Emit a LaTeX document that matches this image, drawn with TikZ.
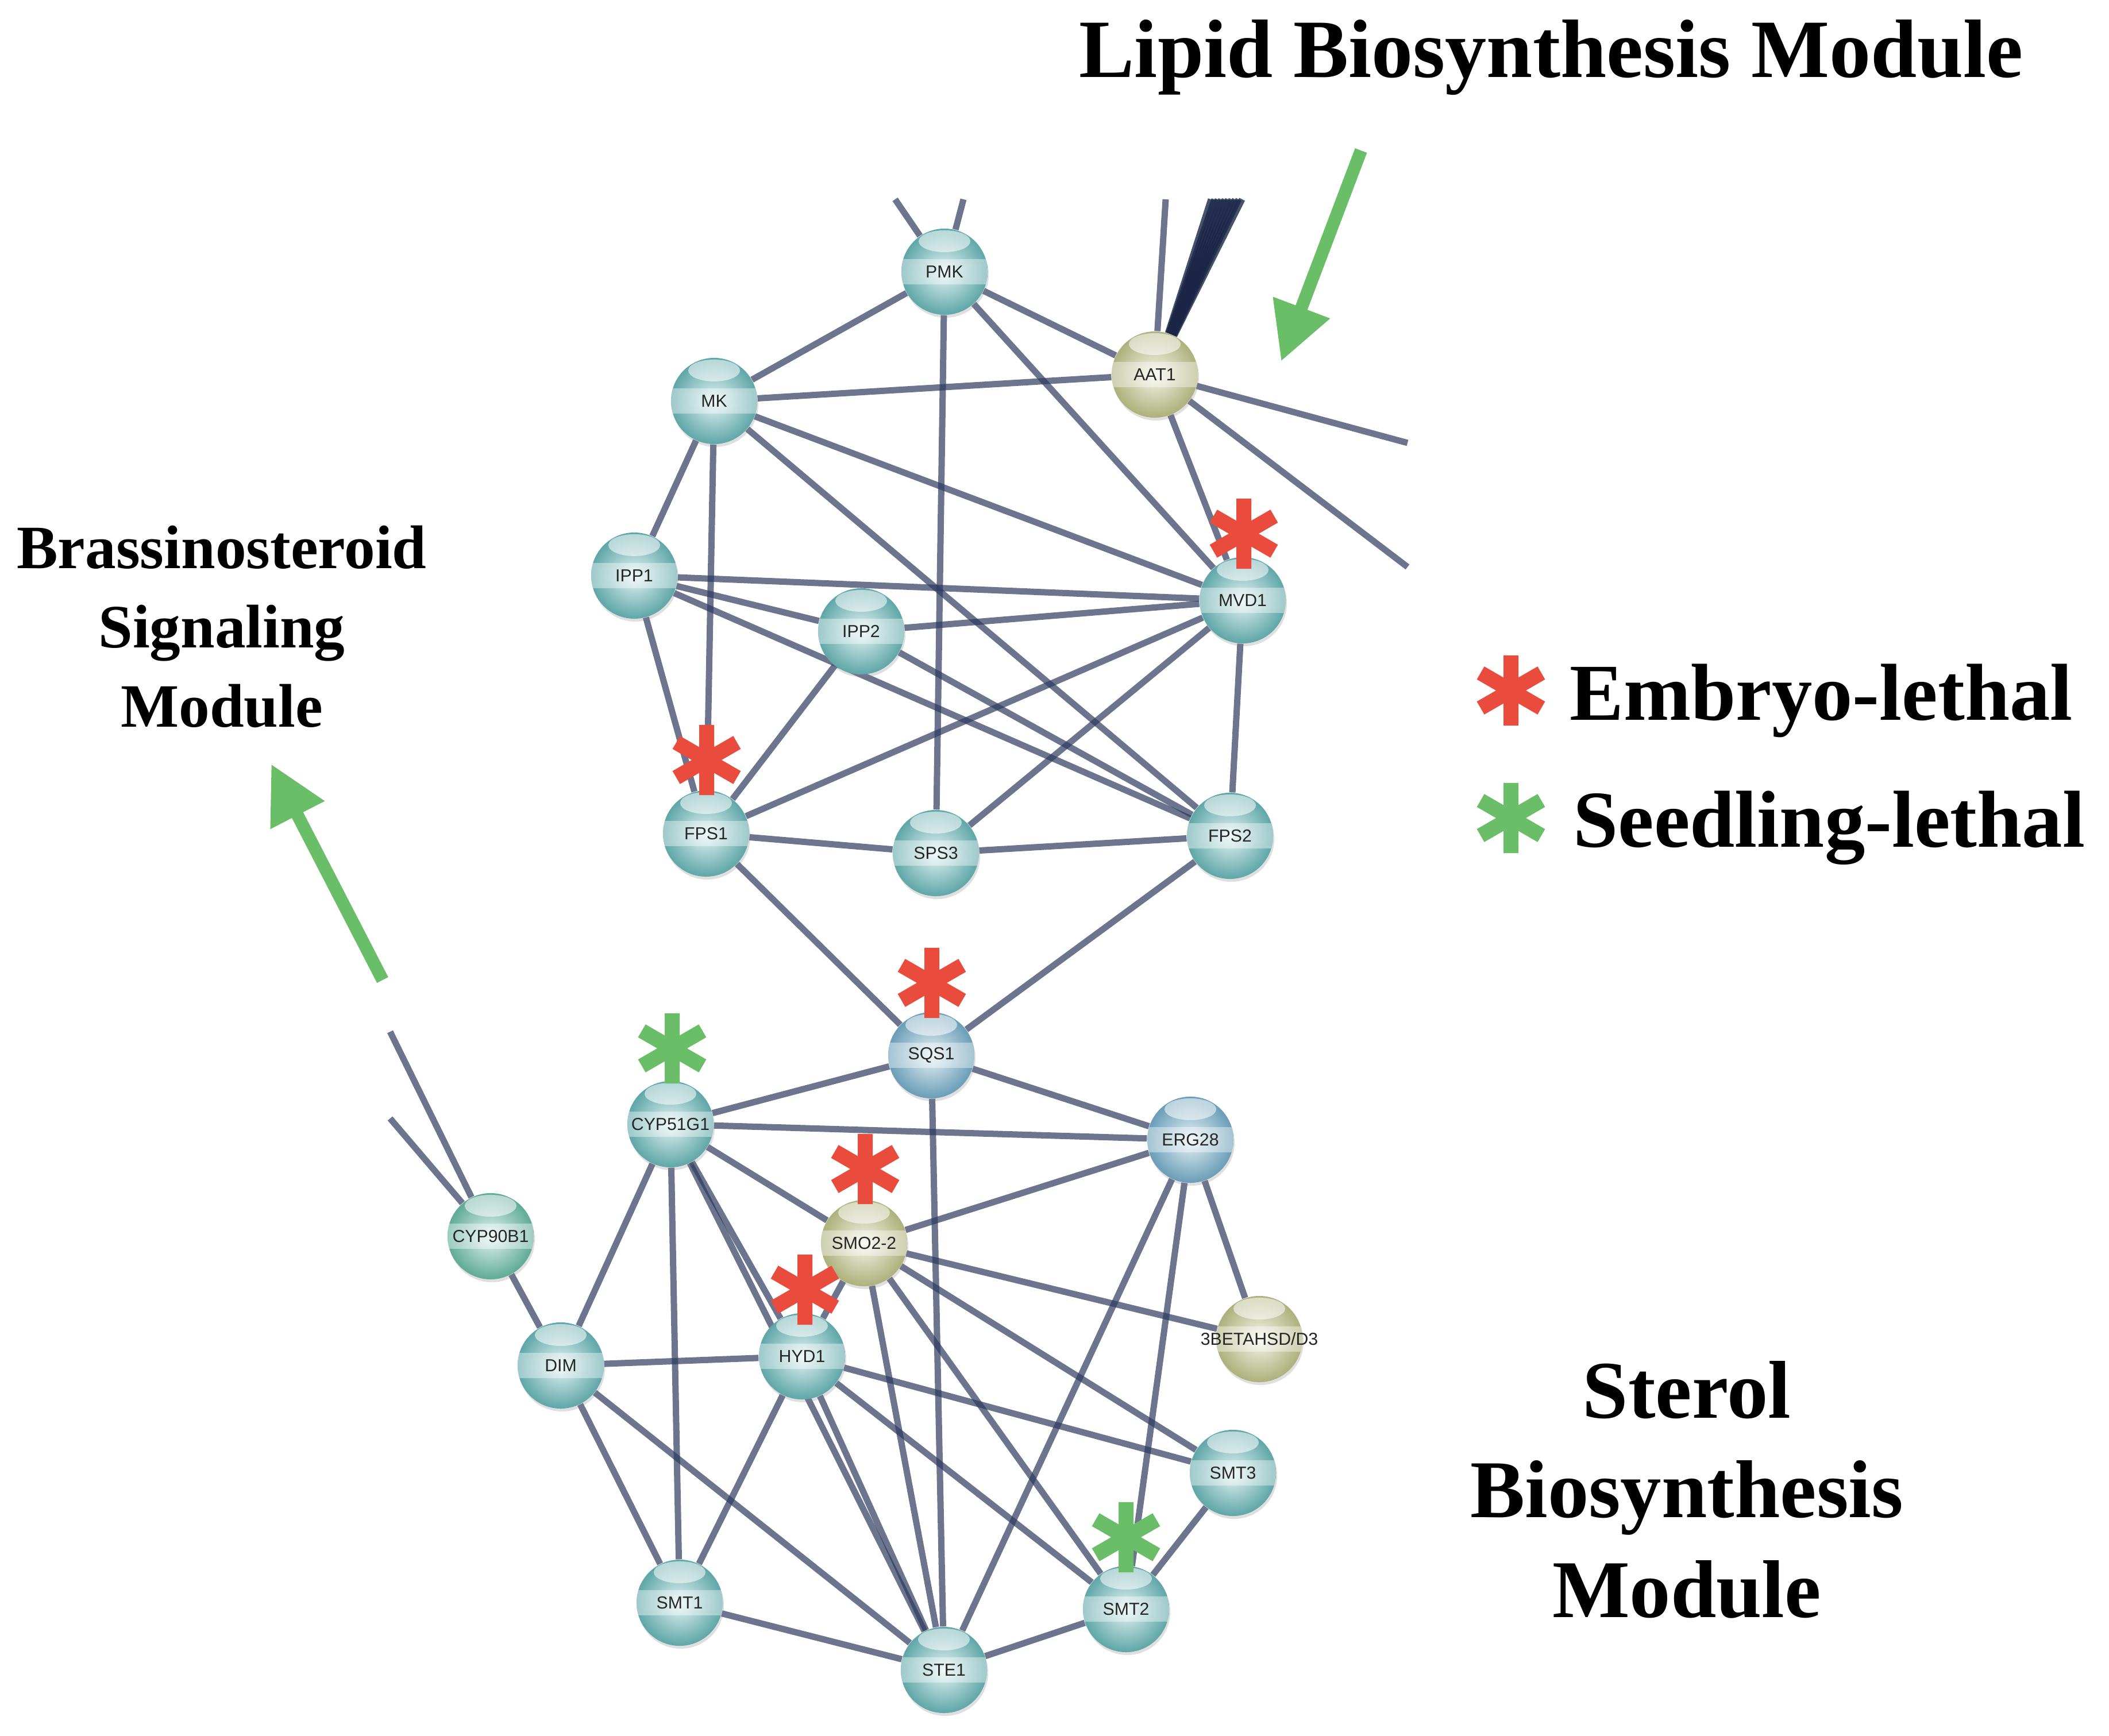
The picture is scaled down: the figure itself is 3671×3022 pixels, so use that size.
\documentclass[tikz,border=0pt]{standalone}
\usepackage{fontspec}
\setmainfont{Liberation Serif}
\newfontfamily\genefont{Liberation Sans}
\usetikzlibrary{arrows.meta, backgrounds, shadows}
\definecolor{cteal}{HTML}{6CBDBF}
\definecolor{cblue}{HTML}{78B3CF}
\definecolor{colive}{HTML}{C4C98C}
\definecolor{cmint}{HTML}{6CC2AA}
\definecolor{cedge}{HTML}{2E3A5F}
\definecolor{cnavy}{HTML}{1B2647}
\definecolor{cred}{HTML}{E94B3C}
\definecolor{cgreen}{HTML}{6ABE68}
\tikzset{
  gene/.style={circle, minimum size=1.5cm, inner sep=0pt, text=black!85,
    font={\genefont\fontsize{8.6}{10}\selectfont},
    shading=radial, inner color=#1!18!white, outer color=#1!88!black,
    drop shadow={shadow xshift=0.02cm, shadow yshift=-0.05cm, opacity=0.25},
    path picture={
      \fill[white, opacity=0.4] ([yshift=-0.22cm]path picture bounding box.west) rectangle ([yshift=0.22cm]path picture bounding box.east);
      \fill[white, opacity=0.55] ([yshift=-0.22cm]path picture bounding box.north) ellipse (0.45cm and 0.19cm);
    }},
  gene/.default=cteal,
  ppi/.style={draw=cedge, opacity=0.7, line width=0.11cm},
  fan/.style={draw=cnavy, opacity=0.8, line width=0.11cm},
  pointer/.style={-{Triangle[length=1cm, width=1cm]}, draw=cgreen, line width=0.22cm},
  title/.style={font=\bfseries\fontsize{41}{49}\selectfont, anchor=base},
  module/.style={font=\bfseries\fontsize{40.6}{49.2}\selectfont, align=center, anchor=base},
  legend/.style={font=\bfseries\fontsize{40}{48}\selectfont, anchor=base west},
  lethalmark/.pic={
    \draw[#1, line width=0.26cm] (90:0.61cm) -- (270:0.61cm) (30:0.61cm) -- (210:0.61cm) (150:0.61cm) -- (330:0.61cm);
  },
}

\begin{document}
\begin{tikzpicture}[x=0.01cm, y=-0.01cm]
  \useasboundingbox (0,0) rectangle (3671,3022);
  % lipid module
  \node[gene] (pmk) at (1644,473) {PMK};
  \node[gene=colive] (aat) at (2010,652) {AAT1};
  \node[gene] (mk) at (1243,698) {MK};
  \node[gene] (ipp1) at (1104,1002) {IPP1};
  \node[gene] (ipp2) at (1499,1099) {IPP2};
  \node[gene] (mvd) at (2163,1045) {MVD1};
  \node[gene] (fps1) at (1229,1451) {FPS1};
  \node[gene] (sps) at (1629,1485) {SPS3};
  \node[gene] (fps2) at (2141,1455) {FPS2};
  % sterol module
  \node[gene=cblue] (sqs) at (1621,1837) {SQS1};
  \node[gene] (cyp51) at (1167,1957) {CYP51G1};
  \node[gene=cblue] (erg) at (2072,1984) {ERG28};
  \node[gene=cmint] (cyp90) at (854,2152) {CYP90B1};
  \node[gene=colive] (smo) at (1504,2164) {SMO2-2};
  \node[gene] (hyd) at (1396,2361) {HYD1};
  \node[gene] (dim) at (976,2377) {DIM};
  \node[gene=colive] (hsd) at (2192,2331) {\makebox[0pt]{3BETAHSD/D3}};
  \node[gene] (smt3) at (2146,2564) {SMT3};
  \node[gene] (smt1) at (1183,2790) {SMT1};
  \node[gene] (smt2) at (1960,2801) {SMT2};
  \node[gene] (ste) at (1643,2907) {STE1};
  % where the network is cut off
  \coordinate (pmkUpA) at (1558,347);
  \coordinate (pmkUpB) at (1677,347);
  \coordinate (aatUp) at (2029,347);
  \coordinate (fanA) at (2108,347);
  \coordinate (fanB) at (2114,347);
  \coordinate (fanC) at (2120,347);
  \coordinate (fanD) at (2126,347);
  \coordinate (fanE) at (2132,347);
  \coordinate (fanF) at (2138,347);
  \coordinate (fanG) at (2144,347);
  \coordinate (fanH) at (2150,347);
  \coordinate (fanI) at (2156,347);
  \coordinate (fanJ) at (2162,347);
  \coordinate (aatRightA) at (2450,771);
  \coordinate (aatRightB) at (2450,987);
  \coordinate (cypLeftA) at (679,1796);
  \coordinate (cypLeftB) at (679,1947);
  \begin{scope}[on background layer]
    \fill[white] (0,0) rectangle (3671,3022);
    \path (pmk) edge[ppi] (mk) edge[ppi] (aat) edge[ppi] (mvd) edge[ppi] (sps) edge[ppi] (pmkUpA) edge[ppi] (pmkUpB);
    \path (aat) edge[ppi] (mk) edge[ppi] (mvd) edge[ppi] (aatUp) edge[ppi] (aatRightA) edge[ppi] (aatRightB);
    \path (aat) edge[fan] (fanA) edge[fan] (fanB) edge[fan] (fanC) edge[fan] (fanD) edge[fan] (fanE)
      edge[fan] (fanF) edge[fan] (fanG) edge[fan] (fanH) edge[fan] (fanI) edge[fan] (fanJ);
    \path (mk) edge[ppi] (ipp1) edge[ppi] (fps1) edge[ppi] (mvd) edge[ppi] (fps2);
    \path (ipp1) edge[ppi] (mvd) edge[ppi] (ipp2) edge[ppi] (fps2) edge[ppi] (fps1);
    \path (ipp2) edge[ppi] (mvd) edge[ppi] (fps1) edge[ppi] (fps2);
    \path (mvd) edge[ppi] (fps1) edge[ppi] (sps) edge[ppi] (fps2);
    \path (sps) edge[ppi] (fps1) edge[ppi] (fps2);
    \path (sqs) edge[ppi] (fps1) edge[ppi] (fps2) edge[ppi] (cyp51) edge[ppi] (erg) edge[ppi] (ste);
    \path (cyp51) edge[ppi] (erg) edge[ppi] (smo) edge[ppi] (hyd) edge[ppi] (ste) edge[ppi] (dim) edge[ppi] (smt1);
    \path (erg) edge[ppi] (smo) edge[ppi] (hsd) edge[ppi] (ste) edge[ppi] (smt2);
    \path (smo) edge[ppi] (hyd) edge[ppi] (ste) edge[ppi] (smt2) edge[ppi] (smt3) edge[ppi] (hsd);
    \path (hyd) edge[ppi] (dim) edge[ppi] (smt1) edge[ppi] (ste) edge[ppi] (smt3) edge[ppi] (smt2);
    \path (dim) edge[ppi] (cyp90) edge[ppi] (smt1) edge[ppi] (ste);
    \path (cyp90) edge[ppi] (cypLeftA) edge[ppi] (cypLeftB);
    \path (ste) edge[ppi] (smt1) edge[ppi] (smt2);
    \path (smt2) edge[ppi] (smt3);
  \end{scope}
  % lethal phenotypes
  \pic at (2165,929) {lethalmark=cred};
  \pic at (1230,1323) {lethalmark=cred};
  \pic at (1622,1711) {lethalmark=cred};
  \pic at (1506,2035) {lethalmark=cred};
  \pic at (1401,2245) {lethalmark=cred};
  \pic at (1170,1825) {lethalmark=cgreen};
  \pic at (1960,2676) {lethalmark=cgreen};
  % module names and pointers (base = last line)
  \node[title] (lipidTitle) at (2700,135) {Lipid Biosynthesis Module};
  \coordinate (lipidTail) at (2369,262);
  \coordinate (lipidTip) at (2230,629);
  \draw[pointer] (lipidTail) -- (lipidTip);
  \node[module, font=\bfseries\fontsize{30.5}{39.3}\selectfont] (brassino) at (386,1266) {Brassinosteroid\\Signaling\\Module};
  \coordinate (brassTail) at (666,1706);
  \coordinate (brassTip) at (472,1330);
  \draw[pointer] (brassTail) -- (brassTip);
  \node[module] (sterol) at (2936,2815) {Sterol\\Biosynthesis\\Module};
  % legend
  \pic at (2630,1202) {lethalmark=cred};
  \node[legend] (embryo) at (2720,1254) {Embryo-lethal};
  \pic at (2630,1424) {lethalmark=cgreen};
  \node[legend] (seedling) at (2726,1475) {Seedling-lethal};
\end{tikzpicture}
\end{document}
